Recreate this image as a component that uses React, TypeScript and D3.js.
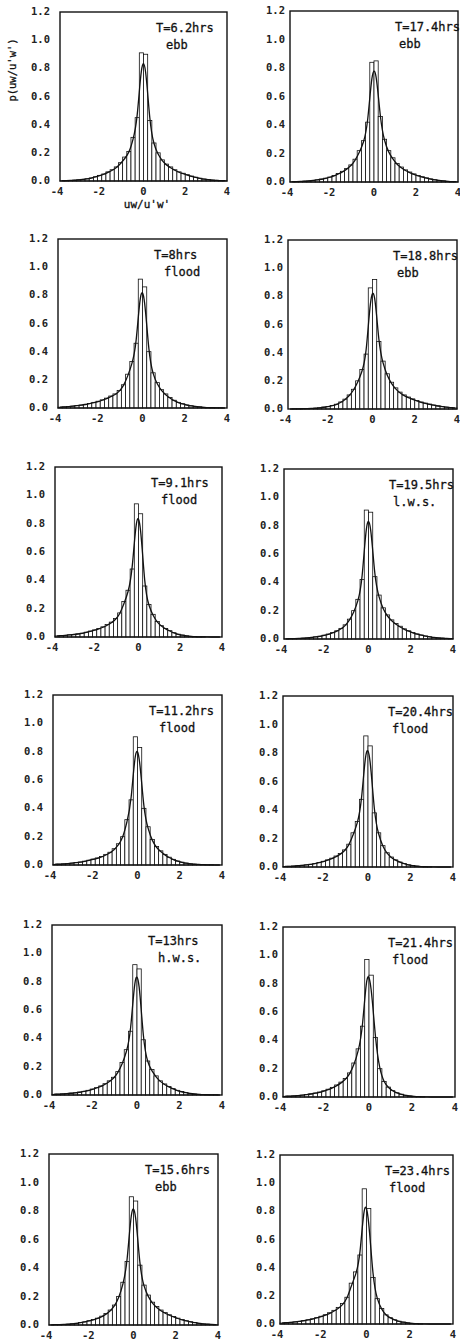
import React from "react";
import * as d3 from "d3";

// ---- data ----
const BIN_START = -4;
const BIN_WIDTH = 0.2;
const X_TICKS = [-4, -2, 0, 2, 4];
const Y_TICKS = [0, 0.2, 0.4, 0.6, 0.8, 1.0, 1.2];

const timeLabels = [
  "T=6.2hrs", "T=17.4hrs", "T=8hrs", "T=18.8hrs", "T=9.1hrs", "T=19.5hrs",
  "T=11.2hrs", "T=20.4hrs", "T=13hrs", "T=21.4hrs", "T=15.6hrs", "T=23.4hrs",
];
const tideLabels = [
  "ebb", "ebb", "flood", "ebb", "flood", "l.w.s.",
  "flood", "flood", "h.w.s.", "flood", "ebb", "flood",
];

// bar heights p(uw/u'w') for the 40 bins from -4 to 4
const p6_2 = [
  0.002, 0.003, 0.004, 0.006, 0.009, 0.012, 0.016, 0.022, 0.03, 0.04, 0.05, 0.065, 0.08, 0.1, 0.13, 0.17, 0.21, 0.31, 0.45, 0.91,
  0.9, 0.43, 0.27, 0.2, 0.15, 0.12, 0.1, 0.08, 0.065, 0.055, 0.045, 0.035, 0.027, 0.02, 0.014, 0.01, 0.007, 0.005, 0.003, 0.002,
];
const p17_4 = [
  0.002, 0.003, 0.004, 0.006, 0.008, 0.011, 0.015, 0.02, 0.027, 0.035, 0.045, 0.06, 0.075, 0.095, 0.12, 0.16, 0.22, 0.29, 0.42, 0.84,
  0.85, 0.46, 0.3, 0.22, 0.17, 0.13, 0.105, 0.085, 0.07, 0.057, 0.046, 0.037, 0.029, 0.022, 0.016, 0.011, 0.008, 0.005, 0.003, 0.002,
];
const p8 = [
  0.006, 0.008, 0.01, 0.013, 0.017, 0.021, 0.026, 0.032, 0.04, 0.048, 0.058, 0.07, 0.085, 0.1, 0.125, 0.165, 0.24, 0.33, 0.46, 0.915,
  0.86, 0.4, 0.25, 0.18, 0.13, 0.1, 0.075, 0.055, 0.04, 0.03, 0.022, 0.016, 0.011, 0.008, 0.005, 0.003, 0.002, 0.001, 0.001, 0,
];
const p18_8 = [
  0, 0.001, 0.001, 0.002, 0.003, 0.004, 0.006, 0.009, 0.013, 0.018, 0.025, 0.034, 0.05, 0.07, 0.1, 0.14, 0.2, 0.28, 0.39, 0.86,
  0.92, 0.48, 0.34, 0.25, 0.19, 0.15, 0.12, 0.1, 0.085, 0.072, 0.06, 0.05, 0.042, 0.035, 0.028, 0.022, 0.017, 0.013, 0.01, 0.008,
];
const p9_1 = [
  0.008, 0.01, 0.012, 0.015, 0.018, 0.022, 0.027, 0.034, 0.042, 0.05, 0.06, 0.072, 0.088, 0.105, 0.13, 0.17, 0.25, 0.33, 0.48, 0.94,
  0.87, 0.36, 0.23, 0.16, 0.11, 0.08, 0.06, 0.045, 0.03, 0.02, 0.013, 0.008, 0.005, 0.003, 0.001, 0.001, 0, 0, 0, 0,
];
const p19_5 = [
  0.001, 0.002, 0.003, 0.004, 0.006, 0.008, 0.011, 0.015, 0.02, 0.027, 0.035, 0.045, 0.058, 0.075, 0.1, 0.14, 0.2, 0.28, 0.42, 0.91,
  0.895, 0.44, 0.31, 0.22, 0.17, 0.135, 0.11, 0.09, 0.072, 0.058, 0.046, 0.036, 0.028, 0.021, 0.016, 0.011, 0.008, 0.006, 0.004, 0.003,
];
const p11_2 = [
  0.005, 0.006, 0.008, 0.01, 0.013, 0.017, 0.021, 0.027, 0.034, 0.042, 0.05, 0.06, 0.075, 0.09, 0.115, 0.15, 0.2, 0.32, 0.46, 0.905,
  0.83, 0.4, 0.27, 0.18, 0.13, 0.1, 0.075, 0.055, 0.04, 0.028, 0.02, 0.013, 0.009, 0.006, 0.004, 0.002, 0.001, 0.001, 0, 0,
];
const p20_4 = [
  0.004, 0.005, 0.007, 0.009, 0.012, 0.015, 0.019, 0.025, 0.032, 0.04, 0.05, 0.062, 0.077, 0.095, 0.12, 0.16, 0.24, 0.32, 0.475, 0.92,
  0.85, 0.38, 0.24, 0.15, 0.1, 0.07, 0.05, 0.035, 0.024, 0.015, 0.01, 0.006, 0.003, 0.002, 0.001, 0, 0, 0, 0, 0,
];
const p13 = [
  0.005, 0.006, 0.008, 0.01, 0.013, 0.016, 0.02, 0.026, 0.033, 0.042, 0.052, 0.064, 0.08, 0.1, 0.125, 0.165, 0.23, 0.32, 0.45, 0.92,
  0.89, 0.39, 0.24, 0.18, 0.135, 0.1, 0.078, 0.06, 0.045, 0.033, 0.024, 0.017, 0.011, 0.007, 0.005, 0.003, 0.002, 0.001, 0.001, 0,
];
const p21_4 = [
  0.005, 0.006, 0.008, 0.01, 0.013, 0.017, 0.022, 0.028, 0.035, 0.044, 0.055, 0.068, 0.085, 0.105, 0.13, 0.17, 0.24, 0.34, 0.5, 0.97,
  0.86, 0.42, 0.2, 0.11, 0.07, 0.045, 0.03, 0.02, 0.012, 0.007, 0.004, 0.002, 0.001, 0, 0, 0, 0, 0, 0, 0,
];
const p15_6 = [
  0.001, 0.002, 0.003, 0.004, 0.006, 0.009, 0.012, 0.017, 0.022, 0.03, 0.038, 0.048, 0.062, 0.08, 0.105, 0.14, 0.2, 0.3, 0.445, 0.9,
  0.87, 0.42, 0.28, 0.21, 0.16, 0.13, 0.105, 0.087, 0.072, 0.06, 0.048, 0.038, 0.03, 0.023, 0.017, 0.012, 0.008, 0.006, 0.004, 0.002,
];
const p23_4 = [
  0.007, 0.009, 0.012, 0.015, 0.019, 0.024, 0.03, 0.037, 0.045, 0.055, 0.066, 0.08, 0.097, 0.118, 0.145, 0.19, 0.29, 0.37, 0.49, 0.96,
  0.82, 0.33, 0.18, 0.11, 0.065, 0.045, 0.03, 0.02, 0.013, 0.008, 0.005, 0.003, 0.001, 0, 0, 0, 0, 0, 0, 0,
];
const panelValues = [p6_2, p17_4, p8, p18_8, p9_1, p19_5, p11_2, p20_4, p13, p21_4, p15_6, p23_4];

// ---- layout (plot frames: left, top, right, bottom) ----
const FRAMES = [
  [60, 12, 227, 181], [290, 11, 458, 182],
  [58, 239, 227, 408], [288, 240, 457, 409],
  [55, 467, 222, 637], [284, 469, 453, 639],
  [53, 695, 222, 865], [283, 696, 453, 867],
  [52, 925, 222, 1095], [283, 927, 455, 1097],
  [49, 1154, 218, 1325], [280, 1155, 453, 1324],
];

const MONO = "'DejaVu Sans Mono', 'Liberation Mono', monospace";

function Panel({ idx }: { idx: number }) {
  const [l, t, r, b] = FRAMES[idx];
  const values = panelValues[idx];
  const isRight = idx % 2 === 1;
  const x = d3.scaleLinear().domain([-4, 4]).range([l, r]);
  const y = d3.scaleLinear().domain([0, 1.2]).range([b, t]);
  const bins = values.map((v, i) => {
    const x0 = BIN_START + i * BIN_WIDTH;
    return { x0, x1: x0 + BIN_WIDTH, xc: x0 + BIN_WIDTH / 2, v };
  });
  const line = d3
    .line<{ xc: number; v: number }>()
    .x((d) => x(d.xc))
    .y((d) => y(d.v))
    .curve(d3.curveBundle.beta(0.94));
  const labelGap = isRight ? 5 : 10;
  const l1 = isRight ? 105 : 96;
  const l2 = isRight ? 109 : 106;
  return (
    <g>
      {bins
        .filter((d) => d.v > 0.0005)
        .map((d, i) => (
          <rect
            key={i}
            x={x(d.x0)}
            y={y(d.v)}
            width={x(d.x1) - x(d.x0)}
            height={y(0) - y(d.v)}
            fill="white"
            stroke="#111"
            strokeWidth={0.8}
          />
        ))}
      <path d={line(bins) || ""} fill="none" stroke="#111" strokeWidth={1.3} />
      <rect x={l} y={t} width={r - l} height={b - t} fill="none" stroke="#111" strokeWidth={1.4} />
      {Y_TICKS.map((v) => (
        <text
          key={"y" + v}
          x={l - labelGap}
          y={y(v)}
          textAnchor="end"
          dominantBaseline="middle"
          fontFamily={MONO}
          fontSize={10.5}
          fontWeight="bold"
          fill="#222"
        >
          {v.toFixed(1)}
        </text>
      ))}
      {X_TICKS.map((v) => (
        <text
          key={"x" + v}
          x={x(v) - (v < 0 ? 3 : 0)}
          y={b + 14}
          textAnchor="middle"
          fontFamily={MONO}
          fontSize={10.5}
          fontWeight="bold"
          fill="#222"
        >
          {String(v)}
        </text>
      ))}
      <text x={l + l1} y={t + 20} fontFamily={MONO} fontSize={12} fill="#111" stroke="#111" strokeWidth={0.3}>
        {timeLabels[idx]}
      </text>
      <text x={l + l2} y={t + 37} fontFamily={MONO} fontSize={12} fill="#111" stroke="#111" strokeWidth={0.3}>
        {tideLabels[idx]}
      </text>
    </g>
  );
}

export default function App() {
  return (
    <div style={{ position: "absolute", left: 0, top: 0 }}>
      <svg width={460} height={1341} style={{ display: "block", background: "white" }}>
        <rect x={0} y={0} width={460} height={1341} fill="white" />
        {panelValues.map((_, i) => (
          <Panel key={i} idx={i} />
        ))}
        <text
          transform="translate(16,70) rotate(-90)"
          textAnchor="middle"
          fontFamily={MONO}
          fontSize={10.5}
          fill="#111"
          stroke="#111"
          strokeWidth={0.3}
        >
          p(uw/u'w')
        </text>
        <text x={147} y={208} textAnchor="middle" fontFamily={MONO} fontSize={11} fill="#111" stroke="#111" strokeWidth={0.3}>
          uw/u'w'
        </text>
      </svg>
    </div>
  );
}
